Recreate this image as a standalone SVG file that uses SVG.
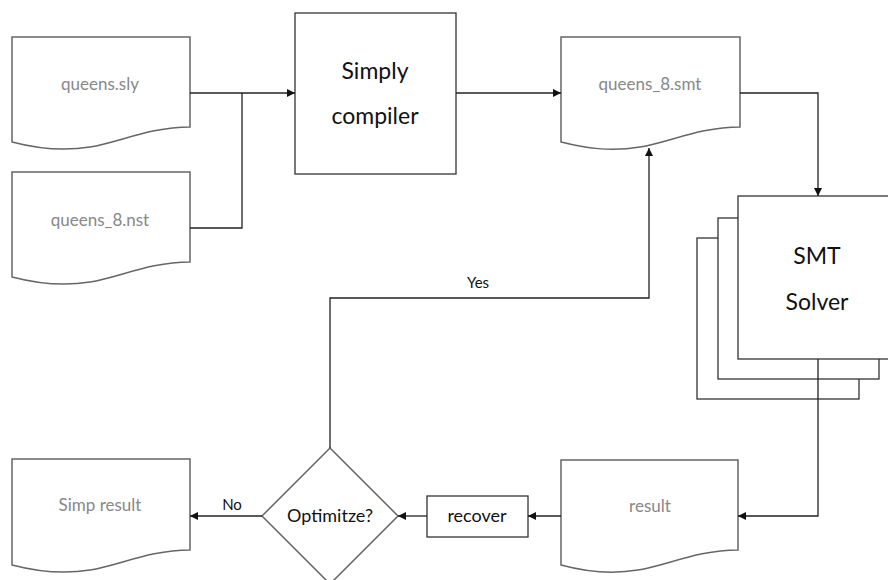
<svg xmlns="http://www.w3.org/2000/svg" width="888" height="580" viewBox="0 0 888 580">
<defs>
<style>
.doc{fill:#fff;stroke:#666;stroke-width:1.5}
.box{fill:#fff;stroke:#333;stroke-width:1.3}
.dl{font-family:Lato,"Open Sans",sans-serif;font-size:17px;fill:#888;text-anchor:middle}
.bl{font-family:Lato,"Open Sans",sans-serif;font-size:23px;fill:#111;text-anchor:middle}
.ml{font-family:Lato,"Open Sans",sans-serif;font-size:18px;fill:#111;text-anchor:middle}
.el{font-family:Lato,"Open Sans",sans-serif;font-size:15px;fill:#111;text-anchor:middle}
.c{fill:none;stroke:#222;stroke-width:1.3}
</style>
<marker id="a" viewBox="0 0 10 10" refX="10" refY="5" markerWidth="8" markerHeight="8" markerUnits="userSpaceOnUse" orient="auto"><path d="M0,0 L10,5 L0,10 Z" fill="#111"/></marker>
</defs>
<g id="queens_sly"><path class="doc" d="M12,37 H190 V127 C150,127 120,142 90,147 C60,152 35,148 12,142 Z"/><text class="dl" x="100" y="90">queens.sly</text></g>
<g id="queens_8_nst"><path class="doc" d="M12,172 H190 V262 C150,262 120,277 90,282 C60,287 35,283 12,277 Z"/><text class="dl" x="100" y="226">queens_8.nst</text></g>
<g id="simply_compiler"><rect class="box" x="295" y="13" width="161" height="161"/><text class="bl" x="375" y="79">Simply</text><text class="bl" x="375" y="124">compiler</text></g>
<g id="queens_8_smt"><path class="doc" d="M561,37 H740 V127 C700,127 670,142 640,147 C610,152 585,148 561,142 Z"/><text class="dl" x="650" y="90">queens_8.smt</text></g>
<g id="smt_solver"><rect class="box" x="697" y="238" width="162" height="161"/><rect class="box" x="718" y="218" width="161" height="161"/><rect class="box" x="738" y="196" width="160" height="163"/><text class="bl" x="817" y="264">SMT</text><text class="bl" x="817" y="310">Solver</text></g>
<g id="result"><path class="doc" d="M561,460 H738 V550 C698,550 668,565 638,570 C608,575 583,571 561,565 Z"/><text class="dl" x="650" y="512">result</text></g>
<g id="recover"><rect class="box" x="427" y="496" width="101" height="41"/><text class="ml" x="477" y="522">recover</text></g>
<g id="optimize"><path class="doc" d="M330,448 L398,516 L330,584 L262,516 Z"/><text class="ml" x="330" y="522">Optimitze?</text></g>
<g id="simp_result"><path class="doc" d="M12,459 H190 V550 C150,550 120,565 90,570 C60,575 35,571 12,565 Z"/><text class="dl" x="100" y="511">Simp result</text></g>
<g id="connectors">
<path class="c" d="M190,93 H295" marker-end="url(#a)"/>
<path class="c" d="M190,228 H242 V93"/>
<path class="c" d="M456,93 H561" marker-end="url(#a)"/>
<path class="c" d="M740,93 H818 V196" marker-end="url(#a)"/>
<path class="c" d="M818,359 V516 H738" marker-end="url(#a)"/>
<path class="c" d="M561,516 H528" marker-end="url(#a)"/>
<path class="c" d="M427,516 H398" marker-end="url(#a)"/>
<path class="c" d="M262,516 H190" marker-end="url(#a)"/>
<path class="c" d="M330,448 V298 H649 V148" marker-end="url(#a)"/>
<text class="el" x="478" y="288">Yes</text>
<text class="el" x="232" y="510">No</text>
</g>
</svg>
